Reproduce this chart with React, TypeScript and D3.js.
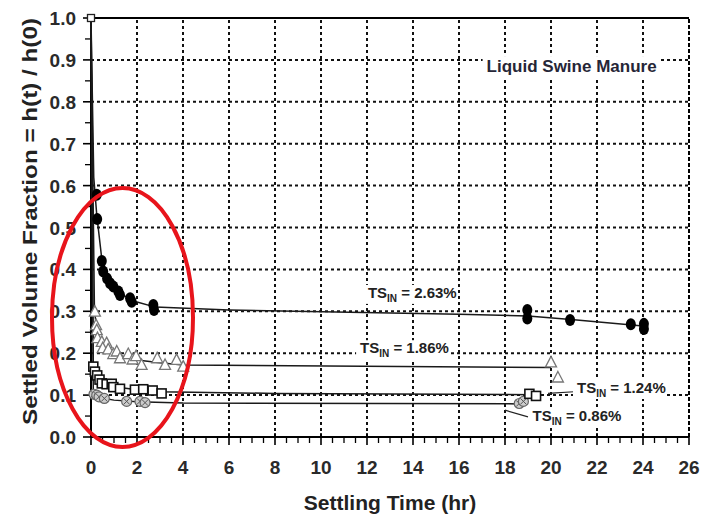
import React from "react";
import * as d3 from "d3";

// ---- data ----
const xTicks = [0, 2, 4, 6, 8, 10, 12, 14, 16, 18, 20, 22, 24, 26];
const yTicks = [0, 0.1, 0.2, 0.3, 0.4, 0.5, 0.6, 0.7, 0.8, 0.9, 1.0];
const startPoint: [number, number] = [0, 1.0];

// TS_IN = 2.63% (filled circles)
const pts263: [number, number][] = [
  [0.25, 0.578], [0.27, 0.52], [0.47, 0.42], [0.53, 0.395], [0.7, 0.378],
  [0.83, 0.367], [0.97, 0.359], [1.19, 0.347], [1.26, 0.339], [1.7, 0.331],
  [1.77, 0.323], [2.71, 0.315], [2.74, 0.303], [18.97, 0.303], [18.97, 0.283],
  [20.83, 0.279], [23.47, 0.269], [24.04, 0.27], [24.04, 0.258],
];
const fit263: [number, number][] = [
  [0, 1], [0.12, 0.62], [0.25, 0.53], [0.5, 0.41], [1, 0.357], [1.5, 0.335],
  [2, 0.322], [2.8, 0.31], [6, 0.303], [16, 0.293], [19, 0.289], [21, 0.28], [24, 0.265],
];

// TS_IN = 1.86% (open triangles)
const pts186: [number, number][] = [
  [0.17, 0.299], [0.22, 0.267], [0.25, 0.255], [0.28, 0.236], [0.47, 0.227],
  [0.68, 0.224], [0.51, 0.212], [0.75, 0.209], [0.97, 0.198], [1.12, 0.204],
  [1.26, 0.188], [1.62, 0.198], [1.81, 0.185], [1.96, 0.193], [2.2, 0.172],
  [2.88, 0.188], [3.22, 0.172], [3.72, 0.184], [4.01, 0.168], [20.0, 0.178], [20.3, 0.142],
];
const fit186: [number, number][] = [
  [0, 1], [0.15, 0.3], [0.3, 0.24], [0.6, 0.212], [1, 0.198], [2, 0.184],
  [3, 0.177], [4, 0.172], [20, 0.166],
];

// TS_IN = 1.24% (open squares)
const pts124: [number, number][] = [
  [0.1, 0.168], [0.17, 0.156], [0.27, 0.147], [0.37, 0.137], [0.47, 0.128],
  [0.68, 0.126], [0.9, 0.127], [0.97, 0.119], [1.26, 0.115], [1.91, 0.113],
  [2.27, 0.114], [2.68, 0.111], [3.07, 0.104], [19.06, 0.103], [19.35, 0.098],
];
const fit124: [number, number][] = [
  [0, 1], [0.1, 0.165], [0.3, 0.145], [0.6, 0.128], [1, 0.12], [2, 0.113],
  [3, 0.108], [8, 0.104], [19.3, 0.101],
];

// TS_IN = 0.86% (crossed circles)
const pts086: [number, number][] = [
  [0.13, 0.102], [0.25, 0.1], [0.35, 0.096], [0.58, 0.092], [1.55, 0.085],
  [2.13, 0.085], [2.35, 0.082], [18.62, 0.08], [18.8, 0.085],
];
const fit086: [number, number][] = [
  [0, 1], [0.1, 0.103], [0.3, 0.097], [0.6, 0.092], [1, 0.088], [2, 0.084],
  [4, 0.081], [18.7, 0.079],
];

const leader124: [number, number][] = [[19.87, 0.104], [21.0, 0.108]];
const leader086: [number, number][] = [[18.0, 0.064], [19.0, 0.048]];

const seriesLabels = [
  { value: "2.63%", t: 12.04, v: 0.332 },
  { value: "1.86%", t: 11.7, v: 0.2 },
  { value: "1.24%", t: 21.13, v: 0.105 },
  { value: "0.86%", t: 19.2, v: 0.038 },
];
const titleText = "Liquid Swine Manure";
const xTitle = "Settling Time (hr)";
const yTitle = "Settled Volume Fraction = h(t) / h(0)";

// ---- layout ----
const W = 702, H = 517;
const x = d3.scaleLinear().domain([0, 26]).range([91, 689]);
const y = d3.scaleLinear().domain([0, 1]).range([437, 18]);
const line = d3.line<[number, number]>().x(d => x(d[0])).y(d => y(d[1]));
const FONT = "'Liberation Sans Narrow', 'Liberation Sans', Arial, sans-serif";

export default function App() {
  const minorX = d3.range(0, 26.01, 0.5).filter(v => Math.abs(v % 2) > 1e-6);
  const minorY = d3.range(0.05, 1, 0.1);
  const gridStyle = { stroke: "#111", strokeWidth: 2, strokeDasharray: "3,3" };
  return (
    <svg width={W} height={H} style={{ position: "absolute", left: 0, top: 0, background: "#fff" }}>
      <rect x={0} y={0} width={W} height={H} fill="#fff" />
      {/* grid */}
      {yTicks.filter(v => v > 0 && v < 1).map(v => (
        <line key={"gy" + v} x1={x(0)} x2={x(26)} y1={y(v)} y2={y(v)} {...gridStyle} />
      ))}
      {xTicks.filter(v => v > 0 && v < 26).map(v => (
        <line key={"gx" + v} x1={x(v)} x2={x(v)} y1={y(0)} y2={y(1)} {...gridStyle} />
      ))}
      {/* borders */}
      <line x1={x(0)} x2={x(26)} y1={y(1)} y2={y(1)} stroke="#000" strokeWidth={2} />
      <line x1={x(26)} x2={x(26)} y1={y(0)} y2={y(1)} stroke="#000" strokeWidth={2} strokeDasharray="4,2" />
      {/* axes */}
      <line x1={x(0)} x2={x(26)} y1={y(0)} y2={y(0)} stroke="#000" strokeWidth={2} />
      <line x1={x(0)} x2={x(0)} y1={y(0)} y2={y(1)} stroke="#000" strokeWidth={2} />
      {xTicks.map(v => (
        <line key={"tx" + v} x1={x(v)} x2={x(v)} y1={y(0) - 4} y2={y(0) + 8} stroke="#000" strokeWidth={1.6} />
      ))}
      {minorX.map(v => (
        <line key={"mx" + v} x1={x(v)} x2={x(v)} y1={y(0)} y2={y(0) + 6} stroke="#000" strokeWidth={1.3} />
      ))}
      {yTicks.map(v => (
        <line key={"ty" + v} x1={x(0) - 8} x2={x(0)} y1={y(v)} y2={y(v)} stroke="#000" strokeWidth={1.6} />
      ))}
      {minorY.map(v => (
        <line key={"my" + v} x1={x(0) - 6} x2={x(0)} y1={y(v)} y2={y(v)} stroke="#000" strokeWidth={1.3} />
      ))}
      {xTicks.map(v => (
        <text key={"lx" + v} x={x(v)} y={474} textAnchor="middle" fontFamily={FONT} fontWeight="bold" fontSize={19} fill="#2a2a2a">{v}</text>
      ))}
      {yTicks.map(v => (
        <text key={"ly" + v} x={76} y={y(v) + 7} textAnchor="end" fontFamily={FONT} fontWeight="bold" fontSize={19} fill="#2a2a2a">{v.toFixed(1)}</text>
      ))}
      <text x={390} y={510} textAnchor="middle" fontFamily={FONT} fontWeight="bold" fontSize={21} fill="#222">{xTitle}</text>
      <text transform={`translate(37,${(18 + 425) / 2}) rotate(-90)`} textAnchor="middle" fontFamily={FONT} fontWeight="bold" fontSize={21} fill="#222" textLength={407} lengthAdjust="spacingAndGlyphs">{yTitle}</text>

      {/* fit lines */}
      {[fit263, fit186, fit124, fit086].map((f, i) => (
        <path key={"f" + i} d={line(f) || ""} fill="none" stroke="#1a1a1a" strokeWidth={1.5} />
      ))}
      <path d={line(leader124) || ""} fill="none" stroke="#222" strokeWidth={1.2} />
      <path d={line(leader086) || ""} fill="none" stroke="#222" strokeWidth={1.2} />

      {/* markers */}
      {pts086.map((p, i) => (
        <g key={"c" + i} transform={`translate(${x(p[0])},${y(p[1])})`}>
          <circle r={5} fill="#ccc" stroke="#666" strokeWidth={1.2} />
          <path d="M-3,-3L3,3M-3,3L3,-3" stroke="#555" strokeWidth={1} />
        </g>
      ))}
      {pts124.map((p, i) => (
        <rect key={"s" + i} x={x(p[0]) - 4.5} y={y(p[1]) - 4.5} width={9} height={9} fill="#fff" stroke="#111" strokeWidth={1.6} />
      ))}
      {pts186.map((p, i) => (
        <path key={"t" + i} transform={`translate(${x(p[0])},${y(p[1])})`} d="M0,-6L5.5,4.5L-5.5,4.5Z" fill="#fff" stroke="#777" strokeWidth={1.3} />
      ))}
      {pts263.map((p, i) => (
        <ellipse key={"b" + i} cx={x(p[0])} cy={y(p[1])} rx={5} ry={6} fill="#000" />
      ))}
      <rect x={x(startPoint[0]) - 3.5} y={y(startPoint[1]) - 3.5} width={7} height={7} fill="#fff" stroke="#222" strokeWidth={1.3} />

      {/* labels */}
      <rect x={x(17.2) - 4} y={y(0.871) - 16} width={178} height={22} fill="#fff" />
      <text x={x(17.2)} y={y(0.871)} fontFamily={FONT} fontWeight="bold" fontSize={17} fill="#262637">{titleText}</text>
      {seriesLabels.map((l, i) => (
        <g key={"sl" + i}>
          <rect x={x(l.t) - 4} y={y(l.v) - 13} width={94} height={19} fill="#fff" />
          <text x={x(l.t)} y={y(l.v)} fontFamily={FONT} fontWeight="bold" fontSize={15} fill="#222">
            TS<tspan dy={4} fontSize={10}>IN</tspan><tspan dy={-4}>{" = " + l.value}</tspan>
          </text>
        </g>
      ))}

      {/* red highlight ellipse */}
      <ellipse cx={122.5} cy={317.5} rx={70.5} ry={129.5} fill="none" stroke="#e8141b" strokeWidth={4} />
    </svg>
  );
}
